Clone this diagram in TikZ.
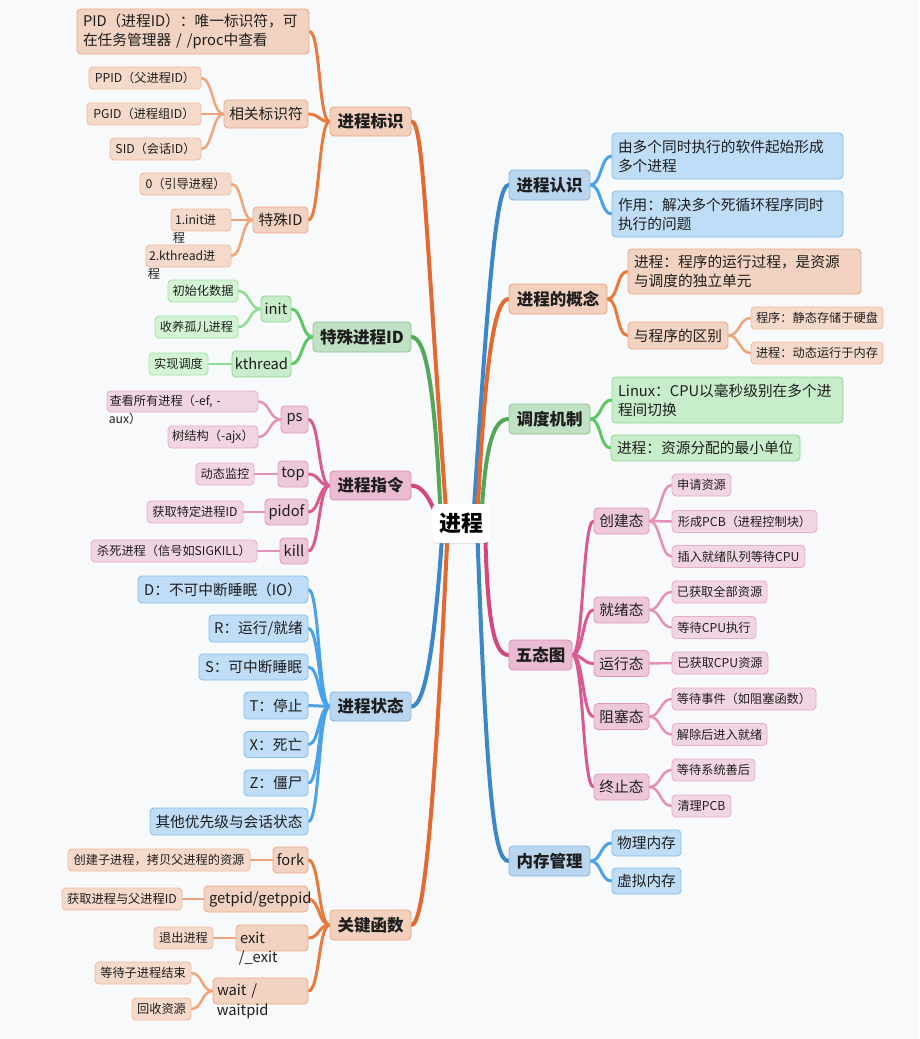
\documentclass[tikz,border=0pt]{standalone}
\usepackage{fontspec}
\setmainfont{Noto Sans CJK SC}
\usetikzlibrary{shadows}
\pgfdeclarelayer{bg}
\pgfsetlayers{bg,main}
\definecolor{bgc}{HTML}{F8F9FB}
\definecolor{txt}{HTML}{1E1E1E}
% orange
\definecolor{oM}{HTML}{E2692F}\definecolor{oLb}{HTML}{E97A3E}\definecolor{oLc}{HTML}{F0A477}
\definecolor{oFa}{HTML}{F3D0BD}\definecolor{oDa}{HTML}{E8A683}
\definecolor{oFb}{HTML}{F2D2C0}\definecolor{oDb}{HTML}{ECAB87}
\definecolor{oFc}{HTML}{F5DACB}\definecolor{oDc}{HTML}{F0BB9C}
% blue
\definecolor{bM}{HTML}{3B87C9}\definecolor{bLb}{HTML}{4AA2EA}
\definecolor{bFa}{HTML}{BAD5EE}\definecolor{bDa}{HTML}{86B6E2}
\definecolor{bFb}{HTML}{BFDDF6}\definecolor{bDb}{HTML}{86BEEC}
% green
\definecolor{gM}{HTML}{52A758}\definecolor{gLb}{HTML}{5DC765}\definecolor{gLc}{HTML}{8EDD93}
\definecolor{gFa}{HTML}{C0E1C3}\definecolor{gDa}{HTML}{8CC690}
\definecolor{gFb}{HTML}{C7EDCA}\definecolor{gDb}{HTML}{91D996}
\definecolor{gFc}{HTML}{D3F4D5}\definecolor{gDc}{HTML}{A2E4A6}
% pink
\definecolor{pM}{HTML}{D3467F}\definecolor{pLb}{HTML}{D95A92}\definecolor{pLc}{HTML}{E590B8}
\definecolor{pFa}{HTML}{EABCD3}\definecolor{pDa}{HTML}{DA8DB5}
\definecolor{pFb}{HTML}{EDC8DA}\definecolor{pDb}{HTML}{E298BE}
\definecolor{pFc}{HTML}{F2D5E3}\definecolor{pDc}{HTML}{E9ACCA}

\newcommand\LinkL[3]{\draw[#1] (#2.west) .. controls +(-11,0) and +(11,0) .. (#3.east);}
\newcommand\LinkR[3]{\draw[#1] (#2.east) .. controls +(11,0) and +(-11,0) .. (#3.west);}

\tikzset{
  bx/.style={rounded corners=4pt, line width=0.9pt, inner xsep=3pt, inner ysep=0pt, text=txt, anchor=center},
  sz/.style 2 args={minimum width=#1pt, minimum height=#2pt},
  Lone/.style={bx, font=\fontsize{16.5}{20}\selectfont\bfseries},
  Ltwo/.style={bx, font=\fontsize{14.7}{19}\selectfont},
  Lthree/.style={bx, font=\fontsize{12.2}{15}\selectfont},
  multi/.style={align=left, inner xsep=6pt, text width=#1pt},
  ovtwo/.style={inner sep=0pt, text=txt, font=\fontsize{14.7}{19}\selectfont, anchor=west},
  ovthree/.style={inner sep=0pt, text=txt, font=\fontsize{12.2}{15}\selectfont, anchor=west},
  oA/.style={fill=oFa, draw=oDa}, oB/.style={fill=oFb, draw=oDb}, oC/.style={fill=oFc, draw=oDc},
  bA/.style={fill=bFa, draw=bDa}, bB/.style={fill=bFb, draw=bDb},
  gA/.style={fill=gFa, draw=gDa}, gB/.style={fill=gFb, draw=gDb}, gC/.style={fill=gFc, draw=gDc},
  pA/.style={fill=pFa, draw=pDa}, pB/.style={fill=pFb, draw=pDb}, pC/.style={fill=pFc, draw=pDc},
  mainline/.style={line width=4pt, line cap=round},
  midline/.style={line width=3pt, line cap=round},
  thinline/.style={line width=2.5pt, line cap=round},
  rootbox/.style={fill=white, rounded corners=6pt, minimum width=58pt, minimum height=39pt,
     inner sep=0pt, text=black, font=\fontsize{22}{26}\selectfont\bfseries,
     drop shadow={shadow xshift=0pt, shadow yshift=-1pt, opacity=0.10, fill=black}}
}

\begin{document}
\begin{tikzpicture}[x=1pt,y=1pt]
\useasboundingbox (0,0) rectangle (919,-1039);

% ---------- root ----------
\node[rootbox] (root) at (461,-523.5) {进程};

% ---------- level 1 ----------
\node[Lone, oA, sz={81}{29}] (bs) at (370.5,-121.5) {进程标识};
\node[Lone, gA, sz={98}{30}] (tsid) at (362,-337) {特殊进程ID};
\node[Lone, pA, sz={81}{29}] (zl) at (370.5,-485.5) {进程指令};
\node[Lone, bA, sz={81}{29}] (zt) at (370.5,-706.5) {进程状态};
\node[Lone, oA, sz={81}{30}] (gj) at (370.5,-925) {关键函数};
\node[Lone, bA, sz={81}{30}] (rs) at (549.5,-185) {进程认识};
\node[Lone, oA, sz={98}{30}] (gn) at (558,-299) {进程的概念};
\node[Lone, gA, sz={81}{30}] (dd) at (549.5,-419) {调度机制};
\node[Lone, pA, sz={63}{30}] (wt) at (540.5,-655) {五态图};
\node[Lone, bA, sz={81}{30}] (nc) at (549.5,-861) {内存管理};

% ---------- 进程标识 ----------
\node[Ltwo, oB, sz={232}{45}, multi=220] (pid) at (193,-31.5) {PID（进程ID）：唯一标识符，可\\在任务管理器 / /proc中查看};
\node[Ltwo, oB, sz={84}{28}] (xg) at (266,-114) {相关标识符};
\node[Ltwo, oB, sz={55}{26}] (tsb) at (280.5,-220) {特殊ID};
\node[Lthree, oC, sz={112}{22}] (ppid) at (145,-78) {PPID（父进程ID）};
\node[Lthree, oC, sz={114}{22}] (pgid) at (144,-114) {PGID（进程组ID）};
\node[Lthree, oC, sz={91}{22}] (sid) at (155.5,-149) {SID（会话ID）};
\node[Lthree, oC, sz={91}{22}] (yd) at (185.5,-184) {0（引导进程）};
\node[Lthree, oC, sz={60}{22}, align=left, text width=52pt, inner xsep=4pt] (inita) at (201,-220) {1.init进};
\node[ovthree] (initb) at ([xshift=2pt,yshift=-6pt]inita.south west) {程};
\node[Lthree, oC, sz={85}{22}, align=left, text width=79pt, inner xsep=3pt] (ktha) at (188.5,-256) {2.kthread进};
\node[ovthree] (kthb) at ([xshift=2pt,yshift=-6pt]ktha.south west) {程};

% ---------- 特殊进程ID ----------
\node[Ltwo, gB, sz={30}{26}] (ginit) at (276,-309) {init};
\node[Ltwo, gB, sz={59}{26}] (gkth) at (261.5,-364) {kthread};
\node[Lthree, gC, sz={70}{22}] (csh) at (203,-291) {初始化数据};
\node[Lthree, gC, sz={83}{22}] (syge) at (196.5,-327) {收养孤儿进程};
\node[Lthree, gC, sz={59}{22}] (sxdd) at (178.5,-364) {实现调度};

% ---------- 进程指令 ----------
\node[Ltwo, pB, sz={27}{27}] (ps) at (294.5,-419.5) {ps};
\node[Ltwo, pB, sz={30}{26}] (top) at (293,-474) {top};
\node[Ltwo, pB, sz={43}{26}] (pidof) at (286.5,-512) {pidof};
\node[Ltwo, pB, sz={28}{26}] (kill) at (294,-551) {kill};
\node[Lthree, pC, sz={151}{21}, align=left, text width=146pt, inner xsep=2.5pt] (cksya) at (182.5,-401.5) {查看所有进程（-ef, -};
\node[ovthree] (cksyb) at ([xshift=2pt,yshift=-6pt]cksya.south west) {aux）};
\node[Lthree, pC, sz={90}{22}] (sjg) at (213,-437) {树结构（-ajx）};
\node[Lthree, pC, sz={58}{22}] (dtjk) at (225,-474) {动态监控};
\node[Lthree, pC, sz={96}{22}] (hqtd) at (195,-512) {获取特定进程ID};
\node[Lthree, pC, sz={166}{22}] (ssjc) at (174,-551) {杀死进程（信号如SIGKILL）};

% ---------- 进程状态 ----------
\node[Ltwo, bB, sz={170}{27}] (sD) at (223,-589.5) {D：不可中断睡眠（IO）};
\node[Ltwo, bB, sz={99}{27}] (sR) at (258.5,-628.5) {R：运行/就绪};
\node[Ltwo, bB, sz={109}{26}] (sS) at (253.5,-667) {S：可中断睡眠};
\node[Ltwo, bB, sz={64}{27}] (sT) at (276,-705.5) {T：停止};
\node[Ltwo, bB, sz={64}{26}] (sX) at (276,-744.5) {X：死亡};
\node[Ltwo, bB, sz={64}{26}] (sZ) at (276,-783) {Z：僵尸};
\node[Ltwo, bB, sz={158}{27}] (sO) at (229,-821.5) {其他优先级与会话状态};

% ---------- 关键函数 ----------
\node[Ltwo, oB, sz={35}{26}] (fork) at (290.5,-860) {fork};
\node[Ltwo, oB, sz={104}{26}, inner xsep=5pt] (getp) at (256,-899) {\makebox[94pt][l]{getpid/getppid}};
\node[Ltwo, oB, sz={72}{26}, align=left, text width=64pt, inner xsep=4pt] (exita) at (272,-938) {exit};
\node[ovtwo] (exitb) at ([xshift=3pt,yshift=-7pt]exita.south west) {/\_exit};
\node[Ltwo, oB, sz={95}{26}, align=left, text width=87pt, inner xsep=4pt] (waita) at (260.5,-991) {wait /};
\node[ovtwo] (waitb) at ([xshift=4pt,yshift=-7pt]waita.south west) {waitpid};
\node[Lthree, oC, sz={182}{22}] (cjzjc) at (159,-860) {创建子进程，拷贝父进程的资源};
\node[Lthree, oC, sz={120}{22}] (hqjc) at (122,-899) {获取进程与父进程ID};
\node[Lthree, oC, sz={59}{22}] (tcjc) at (183.5,-938) {退出进程};
\node[Lthree, oC, sz={96}{22}] (ddzjc) at (143,-973) {等待子进程结束};
\node[Lthree, oC, sz={59}{22}] (hszy) at (161.5,-1009) {回收资源};

% ---------- 进程认识 ----------
\node[Ltwo, bB, sz={231}{46}, multi=219] (r1) at (727.5,-156) {由多个同时执行的软件起始形成\\多个进程};
\node[Ltwo, bB, sz={231}{46}, multi=219] (r2) at (727.5,-214) {作用：解决多个死循环程序同时\\执行的问题};

% ---------- 进程的概念 ----------
\node[Ltwo, oB, sz={233}{45}, multi=221] (g1) at (744.5,-271.5) {进程：程序的运行过程，是资源\\与调度的独立单元};
\node[Ltwo, oB, sz={100}{27}] (g2) at (678,-335.5) {与程序的区别};
\node[Lthree, oC, sz={132}{22}] (g3) at (817,-318) {程序：静态存储于硬盘};
\node[Lthree, oC, sz={132}{22}] (g4) at (817,-353) {进程：动态运行于内存};

% ---------- 调度机制 ----------
\node[Ltwo, gB, sz={231}{46}, multi=219] (d1) at (727.5,-400) {Linux：CPU以毫秒级别在多个进\\程间切换};
\node[Ltwo, gB, sz={187}{26}, multi=177] (d2) at (705.5,-448) {进程：资源分配的最小单位};

% ---------- 五态图 ----------
\node[Ltwo, pB, sz={55}{26}] (w1) at (621.5,-521) {创建态};
\node[Ltwo, pB, sz={55}{26}] (w2) at (621.5,-610) {就绪态};
\node[Ltwo, pB, sz={55}{26}] (w3) at (621.5,-663.5) {运行态};
\node[Ltwo, pB, sz={55}{26}] (w4) at (621.5,-716.5) {阻塞态};
\node[Ltwo, pB, sz={55}{26}] (w5) at (621.5,-787) {终止态};
\node[Lthree, pC, sz={59}{22}] (w11) at (701.5,-485) {申请资源};
\node[Lthree, pC, sz={145}{22}] (w12) at (744.5,-521.5) {形成PCB（进程控制块）};
\node[Lthree, pC, sz={133}{22}] (w13) at (738.5,-556.5) {插入就绪队列等待CPU};
\node[Lthree, pC, sz={95}{22}] (w21) at (719.5,-592) {已获取全部资源};
\node[Lthree, pC, sz={84}{22}] (w22) at (714,-627.5) {等待CPU执行};
\node[Lthree, pC, sz={96}{22}] (w31) at (720,-663) {已获取CPU资源};
\node[Lthree, pC, sz={144}{22}] (w41) at (744,-699) {等待事件（如阻塞函数）};
\node[Lthree, pC, sz={95}{22}] (w42) at (719.5,-734.5) {解除后进入就绪};
\node[Lthree, pC, sz={83}{22}] (w51) at (713.5,-770) {等待系统善后};
\node[Lthree, pC, sz={59}{22}] (w52) at (701.5,-806) {清理PCB};

% ---------- 内存管理 ----------
\node[Ltwo, bB, sz={69}{26}] (n1) at (646.5,-843) {物理内存};
\node[Ltwo, bB, sz={69}{26}] (n2) at (646.5,-881) {虚拟内存};

\begin{pgfonlayer}{bg}
\fill[bgc] (0,0) rectangle (919,-1039);
% main connectors
\draw[mainline, oM] ([xshift=-14pt]root.center) .. controls +(-22,300) and +(12,0) .. (bs.east);
\draw[mainline, gM] ([xshift=-20pt]root.center) .. controls +(-6,140) and +(14,0) .. (tsid.east);
\draw[mainline, pM] ([xshift=-22pt]root.center) .. controls +(-5,15) and +(14,0) .. (zl.east);
\draw[mainline, bM] ([xshift=-18pt]root.center) .. controls +(-8,-120) and +(14,0) .. (zt.east);
\draw[mainline, oM] ([xshift=-13pt]root.center) .. controls +(-14,-300) and +(12,0) .. (gj.east);
\draw[mainline, bM] ([xshift=12pt]root.center) .. controls +(16,250) and +(-12,0) .. (rs.west);
\draw[mainline, oM] ([xshift=16pt]root.center) .. controls +(8,165) and +(-14,0) .. (gn.west);
\draw[mainline, gM] ([xshift=20pt]root.center) .. controls +(4,75) and +(-16,0) .. (dd.west);
\draw[mainline, pM] ([xshift=24pt]root.center) .. controls +(2,-90) and +(-16,0) .. (wt.west);
\draw[mainline, bM] ([xshift=16pt]root.center) .. controls +(10,-280) and +(-14,0) .. (nc.west);
% 进程标识
\LinkL{midline, oLb}{bs}{pid}
\LinkL{midline, oLb}{bs}{xg}
\LinkL{midline, oLb}{bs}{tsb}
\LinkL{thinline, oLc}{xg}{ppid}
\LinkL{thinline, oLc}{xg}{pgid}
\LinkL{thinline, oLc}{xg}{sid}
\LinkL{thinline, oLc}{tsb}{yd}
\LinkL{thinline, oLc}{tsb}{inita}
\LinkL{thinline, oLc}{tsb}{ktha}
% 特殊进程ID
\LinkL{midline, gLb}{tsid}{ginit}
\LinkL{midline, gLb}{tsid}{gkth}
\LinkL{thinline, gLc}{ginit}{csh}
\LinkL{thinline, gLc}{ginit}{syge}
\LinkL{thinline, gLc}{gkth}{sxdd}
% 进程指令
\LinkL{midline, pLb}{zl}{ps}
\LinkL{midline, pLb}{zl}{top}
\LinkL{midline, pLb}{zl}{pidof}
\LinkL{midline, pLb}{zl}{kill}
\LinkL{thinline, pLc}{ps}{cksya}
\LinkL{thinline, pLc}{ps}{sjg}
\LinkL{thinline, pLc}{top}{dtjk}
\LinkL{thinline, pLc}{pidof}{hqtd}
\LinkL{thinline, pLc}{kill}{ssjc}
% 进程状态
\LinkL{midline, bLb}{zt}{sD}
\LinkL{midline, bLb}{zt}{sR}
\LinkL{midline, bLb}{zt}{sS}
\LinkL{midline, bLb}{zt}{sT}
\LinkL{midline, bLb}{zt}{sX}
\LinkL{midline, bLb}{zt}{sZ}
\LinkL{midline, bLb}{zt}{sO}
% 关键函数
\LinkL{midline, oLb}{gj}{fork}
\LinkL{midline, oLb}{gj}{getp}
\LinkL{midline, oLb}{gj}{exita}
\LinkL{midline, oLb}{gj}{waita}
\LinkL{thinline, oLc}{fork}{cjzjc}
\LinkL{thinline, oLc}{getp}{hqjc}
\LinkL{thinline, oLc}{exita}{tcjc}
\LinkL{thinline, oLc}{waita}{ddzjc}
\LinkL{thinline, oLc}{waita}{hszy}
% right side
\LinkR{midline, bLb}{rs}{r1}
\LinkR{midline, bLb}{rs}{r2}
\LinkR{midline, oLb}{gn}{g1}
\LinkR{midline, oLb}{gn}{g2}
\LinkR{thinline, oLc}{g2}{g3}
\LinkR{thinline, oLc}{g2}{g4}
\LinkR{midline, gLb}{dd}{d1}
\LinkR{midline, gLb}{dd}{d2}
\LinkR{midline, pLb}{wt}{w1}
\LinkR{midline, pLb}{wt}{w2}
\LinkR{midline, pLb}{wt}{w3}
\LinkR{midline, pLb}{wt}{w4}
\LinkR{midline, pLb}{wt}{w5}
\LinkR{thinline, pLc}{w1}{w11}
\LinkR{thinline, pLc}{w1}{w12}
\LinkR{thinline, pLc}{w1}{w13}
\LinkR{thinline, pLc}{w2}{w21}
\LinkR{thinline, pLc}{w2}{w22}
\LinkR{thinline, pLc}{w3}{w31}
\LinkR{thinline, pLc}{w4}{w41}
\LinkR{thinline, pLc}{w4}{w42}
\LinkR{thinline, pLc}{w5}{w51}
\LinkR{thinline, pLc}{w5}{w52}
\LinkR{midline, bLb}{nc}{n1}
\LinkR{midline, bLb}{nc}{n2}
\end{pgfonlayer}
\end{tikzpicture}
\end{document}
